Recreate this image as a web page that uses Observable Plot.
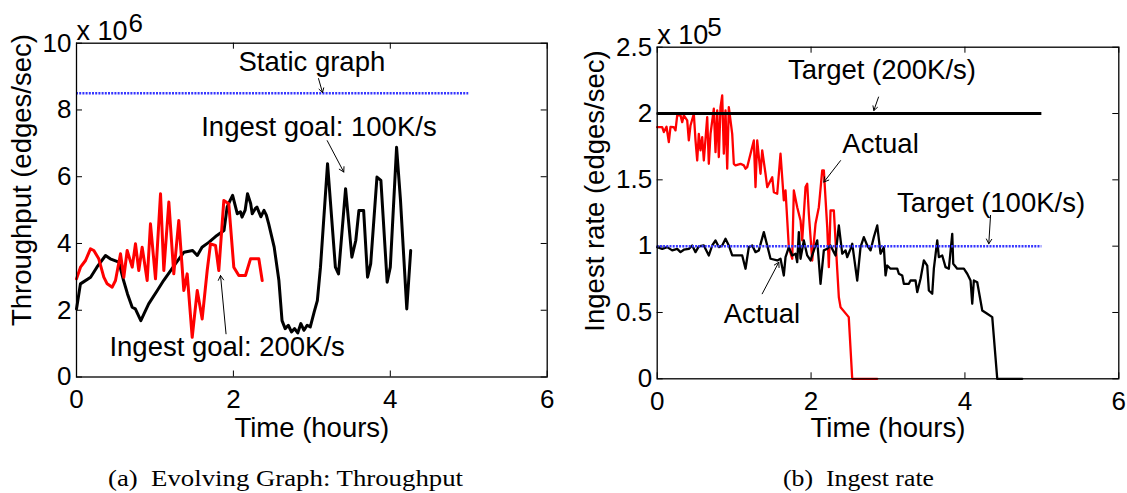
<!DOCTYPE html>
<html>
<head>
<meta charset="utf-8">
<script src="https://cdn.jsdelivr.net/npm/d3@7"></script>
<script src="https://cdn.jsdelivr.net/npm/@observablehq/plot@0.6"></script>
<style>
  html, body { margin: 0; padding: 0; background: #fff; }
  #wrap { position: relative; width: 1127px; height: 493px; overflow: hidden; background: #fff; }
  #left { position: absolute; left: 0; top: 0; }
  #right { position: absolute; left: 580px; top: 0; }
  .cap { position: absolute; top: 467px; font-family: "Liberation Serif", "Times New Roman", serif;
         font-size: 23px; line-height: 1; color: #000; white-space: pre; transform-origin: 0 0; }
</style>
</head>
<body>
<div id="wrap">
  <div id="left"></div>
  <div id="right"></div>
  <div class="cap" id="capA"></div>
  <div class="cap" id="capB"></div>
</div>
<script>
// ---------------- data ----------------
const xTicks = [0, 2, 4, 6];
const leftYTicks = [0, 2, 4, 6, 8, 10];
const rightYTicks = [0, 0.5, 1, 1.5, 2, 2.5];
const timeDomain = [0, 6];
const leftYDomain = [0, 10];
const rightYDomain = [0, 2.5];
const leftExponent = "6";
const rightExponent = "5";
const exponentBase = "x 10";

const xLabel = "Time (hours)";
const leftYLabel = "Throughput (edges/sec)";
const rightYLabel = "Ingest rate (edges/sec)";
const captionA = "(a)  Evolving Graph: Throughput";
const captionB = "(b)  Ingest rate";

// reference levels (x 10^6 on the left, x 10^5 on the right)
const staticGraphThroughput = 8.5;
const target200 = 2.0;
const target100 = 1.0;
const referenceEnd = 5;

// Left panel: throughput, ingest goal 100K/s (black)
const leftBlackTime = [0,0.05,0.18,0.26,0.37,0.43,0.54,0.60,0.65,0.71,
  0.75,0.82,0.86,0.92,1.03,1.11,1.20,1.26,1.37,1.48,
  1.54,1.60,1.69,1.79,1.88,1.92,1.96,1.99,2.05,2.09,
  2.11,2.15,2.18,2.22,2.24,2.28,2.30,2.35,2.39,2.42,
  2.45,2.52,2.58,2.62,2.66,2.70,2.74,2.78,2.82,2.86,
  2.90,2.94,2.98,3.03,3.07,3.11,3.20,3.30,3.34,3.43,
  3.51,3.56,3.60,3.66,3.71,3.75,3.83,3.88,3.96,4.00,
  4.08,4.13,4.21,4.26];
const leftBlackValue = [2.04,2.79,2.99,3.29,3.64,3.54,3.44,2.89,2.49,2.09,
  2.04,1.69,1.89,2.19,2.59,2.89,3.19,3.39,3.74,3.79,
  3.64,3.89,4.04,4.24,4.39,5.09,5.30,5.44,4.89,4.95,
  4.79,5.00,5.49,5.20,4.89,5.05,5.09,4.80,4.99,4.85,
  4.59,3.89,2.89,1.69,1.45,1.55,1.35,1.45,1.32,1.60,
  1.40,1.55,1.50,1.95,2.29,3.29,6.39,3.29,3.09,5.64,
  3.59,4.09,4.99,4.99,2.99,3.39,5.99,5.89,2.84,3.29,
  6.88,5.29,2.04,3.79];

// Left panel: throughput, ingest goal 200K/s (red)
const leftRedTime = [0,0.051,0.115,0.178,0.221,0.284,0.348,0.391,0.455,0.497,
  0.561,0.603,0.646,0.71,0.752,0.794,0.837,0.901,0.943,1.007,
  1.071,1.113,1.177,1.24,1.304,1.368,1.411,1.475,1.539,1.602,
  1.666,1.708,1.772,1.814,1.878,1.941,2.005,2.069,2.154,2.218,
  2.324,2.367];
const leftRedValue = [2.94,3.29,3.49,3.84,3.79,3.54,2.99,2.79,2.69,2.89,
  3.69,2.99,3.79,3.29,3.99,3.19,3.89,2.89,4.59,2.94,
  5.49,3.19,5.24,3.09,4.69,2.59,3.09,1.19,2.59,1.74,
  3.19,3.99,3.94,3.19,5.29,5.19,3.29,3.04,3.04,3.54,
  3.54,2.89];

// Right panel: actual ingest rate at 200K/s target (red)
const rightRedTime = [0.000,0.065,0.087,0.121,0.151,0.173,0.216,0.238,0.260,0.303,
  0.325,0.346,0.390,0.411,0.433,0.476,0.498,0.520,0.541,0.563,
  0.585,0.606,0.650,0.671,0.693,0.736,0.758,0.780,0.801,0.823,
  0.845,0.866,0.888,0.910,0.931,0.975,0.996,1.018,1.083,1.126,
  1.148,1.170,1.256,1.278,1.300,1.343,1.365,1.408,1.430,1.495,
  1.516,1.560,1.603,1.646,1.668,1.711,1.755,1.776,1.820,1.863,
  1.885,1.928,1.950,1.971,2.015,2.058,2.101,2.145,2.166,2.210,
  2.231,2.253,2.296,2.318,2.361,2.383,2.490,2.535,2.860];
const rightRedValue = [1.897,1.897,1.860,1.900,1.785,1.900,1.897,1.873,1.986,1.986,
  1.935,1.986,1.948,1.797,1.910,1.998,1.797,1.646,1.847,1.722,
  1.822,1.646,1.973,1.621,1.847,2.036,1.709,2.023,1.671,2.048,
  2.136,1.697,2.023,1.584,2.048,1.847,1.621,1.609,1.621,1.609,
  1.584,1.596,1.797,1.445,1.797,1.546,1.722,1.546,1.445,1.520,
  1.407,1.395,1.697,1.345,1.420,0.992,0.905,1.420,1.294,1.194,
  1.043,1.445,1.470,1.244,0.892,1.169,1.294,1.571,1.571,1.143,
  0.842,1.269,1.269,1.043,0.615,0.540,0.465,0.000,0.000];

// Right panel: actual ingest rate at 100K/s target (black)
const rightBlackTime = [0,0.065,0.13,0.195,0.26,0.303,0.346,0.411,0.455,0.498,
  0.541,0.606,0.671,0.715,0.758,0.801,0.845,0.888,0.931,0.975,
  1.04,1.105,1.148,1.191,1.235,1.278,1.321,1.386,1.43,1.473,
  1.56,1.603,1.646,1.668,1.711,1.755,1.798,1.82,1.841,1.863,
  1.906,1.95,1.993,2.036,2.08,2.123,2.166,2.21,2.253,2.296,
  2.318,2.34,2.361,2.405,2.448,2.47,2.513,2.535,2.6,2.643,
  2.686,2.73,2.773,2.816,2.86,2.903,2.946,2.968,2.99,3.033,
  3.12,3.141,3.185,3.206,3.271,3.293,3.358,3.38,3.423,3.466,
  3.51,3.531,3.575,3.596,3.64,3.661,3.705,3.748,3.791,3.835,
  3.848,3.9,3.986,4.03,4.073,4.095,4.116,4.16,4.225,4.29,
  4.355,4.42,4.745];
const rightBlackValue = [0.993,0.98,0.993,0.968,0.98,0.955,0.973,0.98,1.005,0.955,
  0.998,1.005,0.93,1.005,1.043,0.993,1.005,1.056,1.005,0.93,
  0.93,0.93,0.83,0.993,1.005,0.955,0.968,1.106,1.005,0.905,
  0.892,0.905,0.779,0.917,0.992,0.93,0.943,0.879,1.106,0.905,
  1.043,0.93,0.892,0.968,1.043,0.716,0.968,0.98,1.005,0.955,
  0.93,1.043,1.156,0.943,0.968,0.917,0.98,1.018,0.741,0.992,
  1.068,1.005,0.968,1.068,1.156,0.943,0.992,0.779,0.854,0.83,
  0.83,0.792,0.779,0.716,0.716,0.741,0.741,0.653,0.754,0.892,
  0.854,0.666,0.641,0.83,1.043,0.917,0.93,0.842,0.83,1.093,
  0.867,0.83,0.83,0.792,0.741,0.566,0.741,0.728,0.515,0.49,
  0.465,0,0];

// annotations (data coordinates)
const leftNotes = [
  {text: "Static graph", t: 3.0, v: 9.18},
  {text: "Ingest goal: 100K/s", t: 3.09, v: 7.23},
  {text: "Ingest goal: 200K/s", t: 1.92, v: 0.64}
];
const leftArrows = [
  {t1: 3.085, v1: 8.94, t2: 3.136, v2: 8.52},
  {t1: 3.196, v1: 7.08, t2: 3.407, v2: 6.14},
  {t1: 1.906, v1: 1.294, t2: 1.836, v2: 3.04}
];
const rightNotes = [
  {text: "Target (200K/s)", t: 2.922, v: 2.262},
  {text: "Actual", t: 2.903, v: 1.705},
  {text: "Target (100K/s)", t: 4.34, v: 1.256},
  {text: "Actual", t: 1.362, v: 0.417}
];
const rightArrows = [
  {t1: 2.877, v1: 2.124, t2: 2.816, v2: 2.023},
  {t1: 2.383, v1: 1.645, t2: 2.166, v2: 1.483},
  {t1: 4.333, v1: 1.232, t2: 4.31, v2: 1.018},
  {t1: 1.365, v1: 0.641, t2: 1.581, v2: 0.879}
];

// ---------------- drawing ----------------
const FONT = "'Liberation Sans', Arial, Helvetica, sans-serif";
const BLUE = "#3535ff";
const fmt = d => String(d);

function panel(cfg) {
  const plotW = cfg.width - cfg.mL - cfg.mR;
  const plotH = cfg.height - cfg.mT - cfg.mB;
  const tx = (timeDomain[1] - timeDomain[0]) * 6 / plotW;
  const ty = (cfg.yDomain[1] - cfg.yDomain[0]) * 6 / plotH;
  const y0 = cfg.yDomain[0], y1 = cfg.yDomain[1];
  const x0 = timeDomain[0], x1 = timeDomain[1];
  return Plot.plot({
    width: cfg.width, height: cfg.height,
    marginLeft: cfg.mL, marginRight: cfg.mR, marginTop: cfg.mT, marginBottom: cfg.mB,
    x: {domain: timeDomain},
    y: {domain: cfg.yDomain},
    style: {fontFamily: FONT, fontSize: "26px", color: "#000", background: "transparent", overflow: "visible"},
    marks: [
      Plot.axisX({ticks: xTicks, tickSize: 0, tickPadding: 13, tickFormat: fmt, label: null, fontSize: 26}),
      Plot.axisY({ticks: cfg.yTicks, tickSize: 0, tickPadding: 5, tickFormat: fmt, label: null, fontSize: 26}),
      Plot.ruleX(xTicks, {x: d => d, y1: y0, y2: y0 + ty, stroke: "#000", strokeWidth: 1}),
      Plot.ruleX(xTicks, {x: d => d, y1: y1 - ty, y2: y1, stroke: "#000", strokeWidth: 1}),
      Plot.ruleY(cfg.yTicks, {y: d => d, x1: x0, x2: x0 + tx, stroke: "#000", strokeWidth: 1}),
      Plot.ruleY(cfg.yTicks, {y: d => d, x1: x1 - tx, x2: x1, stroke: "#000", strokeWidth: 1}),
      ...cfg.dataMarks,
      Plot.frame({stroke: "#000", strokeWidth: 1.3}),
      Plot.text(cfg.notes, {x: "t", y: "v", text: "text", textAnchor: "middle", lineAnchor: "bottom", fontSize: 27.5, fill: "#000"}),
      Plot.arrow(cfg.arrows, {x1: "t1", y1: "v1", x2: "t2", y2: "v2", stroke: "#000", strokeWidth: 1, headLength: 8}),
      Plot.text([xLabel], {text: d => d, frameAnchor: "bottom", textAnchor: "middle", lineAnchor: "bottom", dy: cfg.xLabelDy, fontSize: 27.5}),
      Plot.text([cfg.yLabel], {text: d => d, frameAnchor: "left", textAnchor: "middle", rotate: -90, lineAnchor: "bottom", dx: cfg.yLabelDx, dy: cfg.yLabelDy, fontSize: 27.5}),
      Plot.text([exponentBase], {text: d => d, frameAnchor: "top-left", textAnchor: "start", lineAnchor: "bottom", dy: cfg.expDy, fontSize: 27}),
      Plot.text([cfg.exponent], {text: d => d, frameAnchor: "top-left", textAnchor: "start", lineAnchor: "bottom", dx: cfg.supDx, dy: cfg.supDy, fontSize: 26})
    ]
  });
}

const leftPlot = panel({
  width: 580, height: 450, mL: 76, mR: 33.3, mT: 42.7, mB: 73.5,
  yDomain: leftYDomain, yTicks: leftYTicks,
  yLabel: leftYLabel, yLabelDx: -46, yLabelDy: -30, xLabelDy: 59.5,
  exponent: leftExponent, expDy: -3, supDx: 52, supDy: -11,
  notes: leftNotes, arrows: leftArrows,
  dataMarks: [
    Plot.line(leftBlackValue, {x: leftBlackTime, y: leftBlackValue, stroke: "#000", strokeWidth: 3}),
    Plot.line(leftRedValue, {x: leftRedTime, y: leftRedValue, stroke: "#ff0000", strokeWidth: 3}),
    Plot.ruleY([staticGraphThroughput], {y: d => d, x1: 0, x2: referenceEnd, stroke: BLUE, strokeWidth: 2.5, strokeDasharray: "2,1.2"})
  ]
});

const rightPlot = panel({
  width: 547, height: 450, mL: 76.7, mR: 8.7, mT: 46.7, mB: 71.7,
  yDomain: rightYDomain, yTicks: rightYTicks,
  yLabel: rightYLabel, yLabelDx: -53, yLabelDy: -22, xLabelDy: 58,
  exponent: rightExponent, expDy: -3.4, supDx: 50, supDy: -11.7,
  notes: rightNotes, arrows: rightArrows,
  dataMarks: [
    Plot.line(rightRedValue, {x: rightRedTime, y: rightRedValue, stroke: "#ff0000", strokeWidth: 2.3}),
    Plot.line(rightBlackValue, {x: rightBlackTime, y: rightBlackValue, stroke: "#000", strokeWidth: 2.3}),
    Plot.ruleY([target100], {y: d => d, x1: 0, x2: referenceEnd, stroke: BLUE, strokeWidth: 2.5, strokeDasharray: "2,1.2"}),
    Plot.ruleY([target200], {y: d => d, x1: 0, x2: referenceEnd, stroke: "#000", strokeWidth: 3})
  ]
});

document.getElementById("left").appendChild(leftPlot);
document.getElementById("right").appendChild(rightPlot);

// captions
function placeCaption(id, text, left, width) {
  const el = document.getElementById(id);
  el.textContent = text;
  const w = el.getBoundingClientRect().width;
  const k = width / w;
  el.style.left = left + "px";
  el.style.transform = `scaleX(${k})`;
}
placeCaption("capA", captionA, 108, 355);
placeCaption("capB", captionB, 783, 151);
</script>
</body>
</html>
